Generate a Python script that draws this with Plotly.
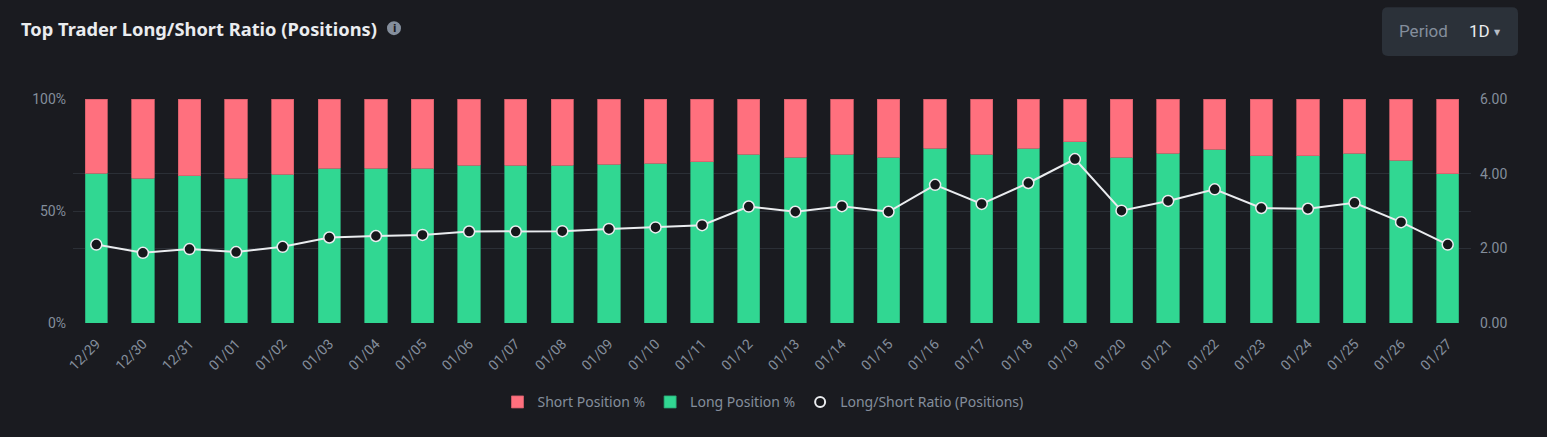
import plotly.graph_objects as go

dates = ["12/29", "12/30", "12/31", "01/01", "01/02", "01/03", "01/04", "01/05", "01/06", "01/07",
         "01/08", "01/09", "01/10", "01/11", "01/12", "01/13", "01/14", "01/15", "01/16", "01/17",
         "01/18", "01/19", "01/20", "01/21", "01/22", "01/23", "01/24", "01/25", "01/26", "01/27"]
long_pct = [66.9, 64.7, 65.8, 64.7, 66.3, 69.1, 69.1, 69.1, 70.5, 70.5,
            70.5, 70.9, 71.4, 72.1, 75.4, 74.0, 75.4, 74.0, 78.0, 75.4,
            78.0, 81.0, 74.0, 75.8, 77.6, 74.7, 74.7, 75.8, 72.7, 66.7]
short_pct = [round(100 - v, 1) for v in long_pct]
ratio = [2.10, 1.88, 1.98, 1.90, 2.04, 2.29, 2.33, 2.36, 2.45, 2.45,
         2.46, 2.52, 2.56, 2.62, 3.12, 2.98, 3.13, 2.98, 3.70, 3.19,
         3.75, 4.39, 3.01, 3.27, 3.58, 3.08, 3.06, 3.22, 2.70, 2.10]
left_ticks = [0, 50, 100]
left_tick_text = ["0%", "50%", "100%"]
right_ticks = [0, 2, 4, 6]
right_tick_text = ["0.00", "2.00", "4.00", "6.00"]

BG = "#1a1b20"
GRID = "#2b2f36"
TXT = "#848e9c"
GREEN = "#31d792"
RED = "#ff707e"

W_FIG, H_FIG = 1547, 437
L, R, T, B = 73, 1471, 99, 323.5
PW, PH = R - L, B - T


def xp(px):
    return (px - L) / PW


def yp(py):
    return (B - py) / PH


fig = go.Figure()
fig.add_trace(go.Bar(x=dates, y=long_pct, name="Long Position %", legendrank=2,
                     marker=dict(color=GREEN, line=dict(color="#2aa876", width=0.8))))
fig.add_trace(go.Bar(x=dates, y=short_pct, name="Short Position %", legendrank=1,
                     marker=dict(color=RED, line=dict(color="#d4606c", width=0.8))))
fig.add_trace(go.Scatter(x=dates, y=ratio, yaxis="y2", mode="lines+markers", showlegend=False,
                         name="Long/Short Ratio (Positions)",
                         line=dict(color="#eaecef", width=2),
                         marker=dict(size=11, color="#16171b", line=dict(color="#eaecef", width=1.5))))
fig.add_trace(go.Scatter(x=[None], y=[None], yaxis="y2", mode="markers", legendrank=3,
                         name="Long/Short Ratio (Positions)",
                         marker=dict(size=10, color="#16171b", line=dict(color="#eaecef", width=2))))

# rounded rectangle for the Period box
x0, x1, y0, y1, r = 1382, 1518, 7, 56, 6
pts = [("M", x0 + r, y0), ("L", x1 - r, y0), ("Q", x1, y0, x1, y0 + r), ("L", x1, y1 - r),
       ("Q", x1, y1, x1 - r, y1), ("L", x0 + r, y1), ("Q", x0, y1, x0, y1 - r),
       ("L", x0, y0 + r), ("Q", x0, y0, x0 + r, y0)]
path = ""
for p in pts:
    cmd = p[0]
    coords = p[1:]
    segs = []
    for i in range(0, len(coords), 2):
        segs.append(f"{xp(coords[i]):.5f},{yp(coords[i + 1]):.5f}")
    path += cmd + " ".join(segs) + " "
path += "Z"

shapes = [
    dict(type="path", xref="paper", yref="paper", path=path, fillcolor="#2b3139", line=dict(width=0), layer="below"),
    dict(type="circle", xref="paper", yref="paper", x0=xp(387), x1=xp(401), y0=yp(35), y1=yp(21),
         fillcolor="#848e9c", line=dict(width=0)),
]

annotations = [
    dict(text="<b>Top Trader Long/Short Ratio (Positions)</b>", x=xp(19), y=yp(28), xref="paper", yref="paper",
         xanchor="left", yanchor="middle", showarrow=False,
         font=dict(family="Noto Sans", size=18.3, color="#eaecef")),
    dict(text="<b>i</b>", x=xp(394), y=yp(28), xref="paper", yref="paper", xanchor="center", yanchor="middle",
         showarrow=False, font=dict(family="DejaVu Sans", size=10, color=BG)),
    dict(text="Period", x=xp(1397), y=yp(31), xref="paper", yref="paper", xanchor="left", yanchor="middle",
         showarrow=False, font=dict(family="Roboto", size=17, color=TXT)),
    dict(text="1D", x=xp(1467), y=yp(31), xref="paper", yref="paper", xanchor="left", yanchor="middle",
         showarrow=False, font=dict(family="Roboto", size=17, color="#eaecef")),
    dict(text="▼", x=xp(1497), y=yp(32), xref="paper", yref="paper", xanchor="center", yanchor="middle",
         showarrow=False, font=dict(family="DejaVu Sans", size=8, color="#b7bdc6")),
]

fig.update_layout(
    width=W_FIG, height=H_FIG,
    paper_bgcolor=BG, plot_bgcolor=BG,
    margin=dict(l=L, r=W_FIG - R, t=T, b=H_FIG - B, autoexpand=False),
    barmode="stack", bargap=0.52,
    showlegend=True,
    legend=dict(orientation="h", x=xp(763), xanchor="center", y=yp(403), yanchor="middle", traceorder="normal",
                font=dict(family="Noto Sans", size=14, color=TXT), bgcolor="rgba(0,0,0,0)",
                itemwidth=30, tracegroupgap=0),
    xaxis=dict(type="category", range=[-0.5, len(dates) - 0.5], autorange=False, tickangle=-45,
               showgrid=False, zeroline=False, showline=False,
               tickfont=dict(family="Roboto", size=14, color=TXT), ticks="", ticklen=0,
               ticklabelstandoff=9),
    yaxis=dict(range=[0, 100], tickvals=left_ticks, ticktext=left_tick_text, gridcolor=GRID, gridwidth=1,
               zeroline=False, showline=False, tickfont=dict(family="Roboto", size=14, color=TXT), ticks="",
               ticklabelstandoff=6),
    yaxis2=dict(range=[0, 6], tickvals=right_ticks, ticktext=right_tick_text, overlaying="y", side="right",
                gridcolor=GRID, gridwidth=1, zeroline=False, showline=False,
                tickfont=dict(family="Roboto", size=14, color=TXT), ticks="", ticklabelstandoff=8),
    shapes=shapes,
    annotations=annotations,
)

fig.write_html("out.html", config={"displayModeBar": False},
               post_script="document.body.style.margin='0';document.body.style.background='#1a1b20';")
